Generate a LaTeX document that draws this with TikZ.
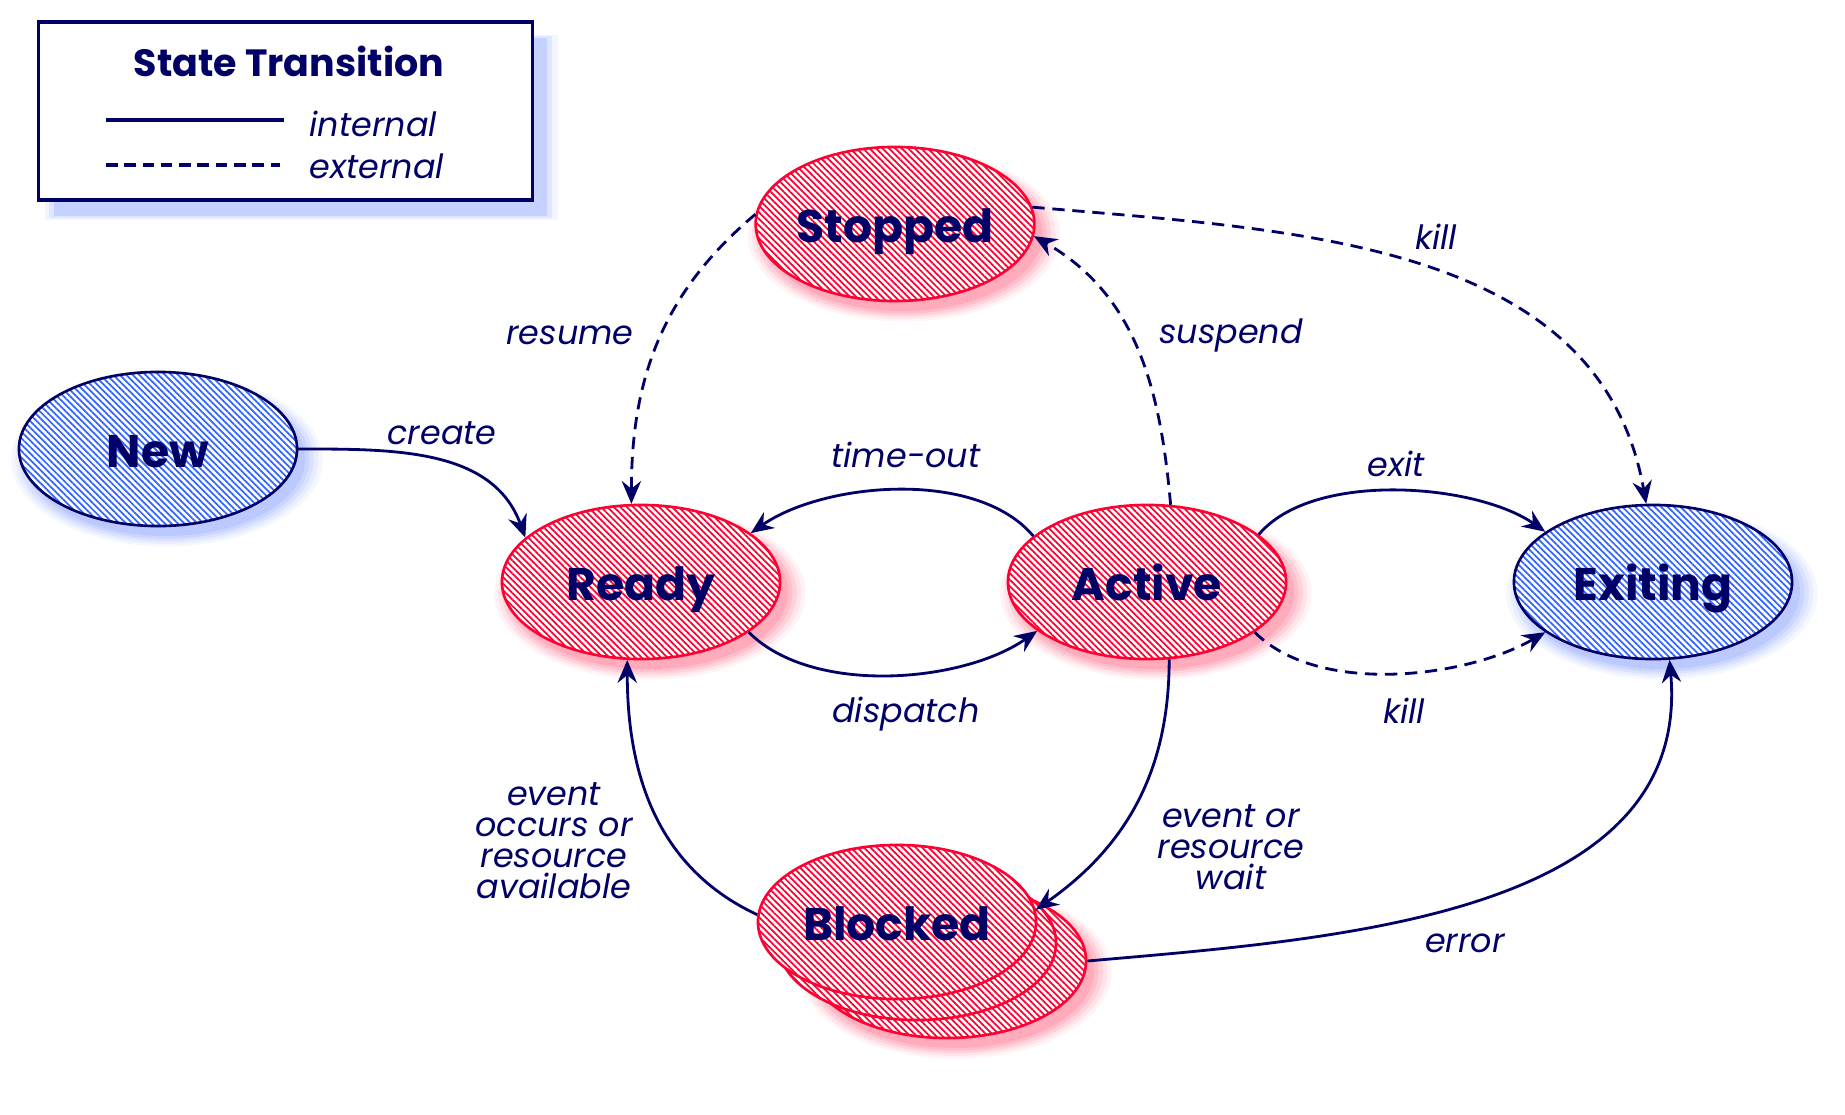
\documentclass[tikz,border=0pt]{standalone}
\usepackage{fontspec}
\setmainfont{Poppins}
\usetikzlibrary{shapes.geometric,arrows.meta,patterns.meta,shadows}
\definecolor{stnavy}{RGB}{0,0,102}
\definecolor{stred}{RGB}{255,0,51}
\definecolor{sthatchblue}{RGB}{51,102,255}
\definecolor{stglowred}{RGB}{255,50,90}
\definecolor{stglowblue}{RGB}{90,125,255}

\begin{document}
\begin{tikzpicture}[x=0.01cm,y=0.01cm]
\tikzstyle{every node}+=[inner sep=0pt,text=stnavy]
\tikzstyle{redglow}=[general shadow={fill=stglowred,opacity=.14,shadow xshift=.08cm,shadow yshift=-.1cm,shadow scale=1.0},
  general shadow={fill=stglowred,opacity=.12,shadow xshift=.08cm,shadow yshift=-.1cm,shadow scale=1.03},
  general shadow={fill=stglowred,opacity=.1,shadow xshift=.08cm,shadow yshift=-.1cm,shadow scale=1.06},
  general shadow={fill=stglowred,opacity=.08,shadow xshift=.08cm,shadow yshift=-.1cm,shadow scale=1.09},
  general shadow={fill=stglowred,opacity=.06,shadow xshift=.08cm,shadow yshift=-.1cm,shadow scale=1.12}]
\tikzstyle{blueglow}=[general shadow={fill=stglowblue,opacity=.14,shadow xshift=.08cm,shadow yshift=-.1cm,shadow scale=1.0},
  general shadow={fill=stglowblue,opacity=.12,shadow xshift=.08cm,shadow yshift=-.1cm,shadow scale=1.03},
  general shadow={fill=stglowblue,opacity=.1,shadow xshift=.08cm,shadow yshift=-.1cm,shadow scale=1.06},
  general shadow={fill=stglowblue,opacity=.08,shadow xshift=.08cm,shadow yshift=-.1cm,shadow scale=1.09},
  general shadow={fill=stglowblue,opacity=.06,shadow xshift=.08cm,shadow yshift=-.1cm,shadow scale=1.12}]
\tikzstyle{boxglow}=[general shadow={fill=stglowblue,opacity=.2,shadow xshift=.15cm,shadow yshift=-.16cm,shadow scale=1.0},
  general shadow={fill=stglowblue,opacity=.12,shadow xshift=.15cm,shadow yshift=-.16cm,shadow scale=1.02},
  general shadow={fill=stglowblue,opacity=.08,shadow xshift=.15cm,shadow yshift=-.16cm,shadow scale=1.04}]
\tikzstyle{redstate}=[ellipse,draw=stred,line width=.75pt,minimum width=2.78cm,minimum height=1.54cm,
  preaction={fill=white},pattern={Lines[angle=-45,distance=1.3pt,line width=.5pt]},pattern color=stred,
  font=\fontsize{13}{15}\selectfont\bfseries,text height=10.5pt,text depth=0pt]
\tikzstyle{bluestate}=[ellipse,draw=stnavy,line width=.75pt,minimum width=2.78cm,minimum height=1.54cm,
  preaction={fill=white},pattern={Lines[angle=-45,distance=1.3pt,line width=.5pt]},pattern color=sthatchblue,
  font=\fontsize{13}{15}\selectfont\bfseries,text height=10.5pt,text depth=0pt]
\tikzstyle{trans}=[draw=stnavy,line width=.8pt,-{Stealth[length=6.5pt,width=5.5pt,inset=2.2pt]}]
\tikzstyle{exttrans}=[trans,dash pattern=on 3.5pt off 2.2pt]
\tikzstyle{lbl}=[font=\fontsize{9.5}{8.8}\selectfont\itshape,align=center]

\useasboundingbox (0,0) rectangle (1845,-1115);

\node[boxglow,draw=stnavy,line width=.9pt,fill=white,minimum width=4.93cm,minimum height=1.78cm] (legend) at (285.5,-111) {};
\node[font=\fontsize{10.8}{13}\selectfont\bfseries] (title) at (289,-61) {State Transition};
\coordinate (intA) at (106,-120);
\coordinate (intB) at (284,-120);
\coordinate (extA) at (106,-165);
\coordinate (extB) at (280,-165);
\draw[stnavy,line width=.9pt] (intA) -- (intB);
\draw[stnavy,line width=.9pt,dash pattern=on 3.3pt off 1.9pt] (extA) -- (extB);
\node[lbl,anchor=west] (internal) at (309,-124) {internal};
\node[lbl,anchor=west] (external) at (309,-166) {external};

\node[blueglow,bluestate] (new) at (158,-449) {New};
\node[redglow,redstate] (stopped) at (895,-224) {Stopped};
\node[redglow,redstate] (ready) at (641,-582) {Ready};
\node[redglow,redstate] (active) at (1147,-582) {Active};
\node[blueglow,bluestate] (exiting) at (1653,-582) {Exiting};
\node[redglow,redstate] (blockedC) at (947,-961) {};
\node[redstate] (blockedB) at (917,-943) {};
\node[redstate] (blocked) at (897,-922) {Blocked};

\draw[trans] (new.east) to[out=0,in=110] (ready.159);
\draw[exttrans] (stopped.176) to[out=220,in=90] (ready.97);
\draw[exttrans] (active.73) to[out=95,in=-30] (stopped.-5);
\draw[exttrans] (stopped.7) to[out=-5,in=100] (exiting.95);
\draw[trans] (active.158) to[out=130,in=35,looseness=.8] (ready.24);
\draw[trans] (ready.-25) to[out=-45,in=-145,looseness=.8] (active.-156);
\draw[trans] (active.23) to[out=50,in=145,looseness=.75] (exiting.155);
\draw[exttrans] (active.-25) to[out=-45,in=-150,looseness=.8] (exiting.-155);
\draw[trans] (active.-74) to[out=-90,in=35] (blocked.5);
\draw[trans] (blocked.177) to[out=155,in=-90] (ready.260);
\draw[trans] (blockedC.east) to[out=5,in=-85] (exiting.-78);

\node[lbl] (create) at (442,-433) {create};
\node[lbl] (resume) at (570,-335) {resume};
\node[lbl] (suspend) at (1231,-335) {suspend};
\node[lbl] (killtop) at (1436,-237) {kill};
\node[lbl] (timeout) at (906,-455) {time-out};
\node[lbl] (exit) at (1396,-464) {exit};
\node[lbl] (dispatch) at (906,-714) {dispatch};
\node[lbl] (killbot) at (1404,-711) {kill};
\node[lbl] (occurs) at (554,-841) {event\\occurs or\\resource\\available};
\node[lbl] (wait) at (1231,-847) {event or\\resource\\wait};
\node[lbl] (error) at (1465,-943) {error};
\end{tikzpicture}
\end{document}
